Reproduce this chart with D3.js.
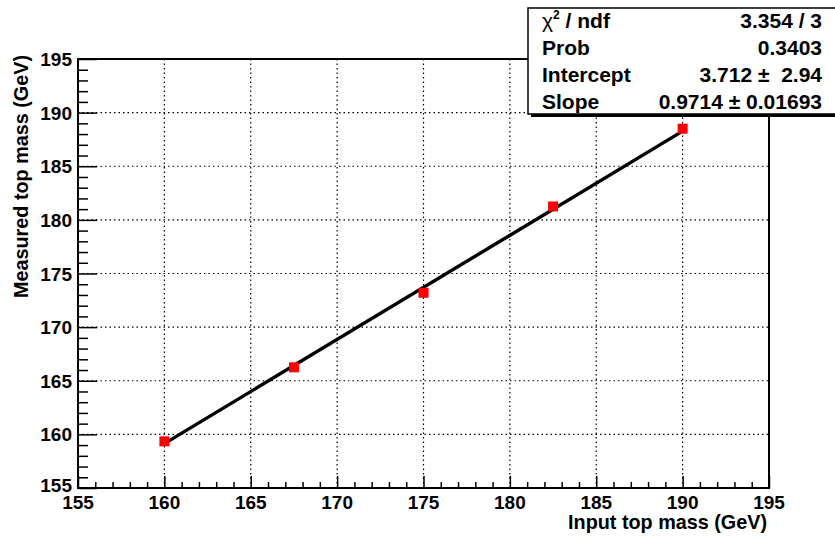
<!DOCTYPE html>
<html>
<head>
<meta charset="utf-8">
<script src="https://cdn.jsdelivr.net/npm/d3@7"></script>
<style>
  body { margin: 0; background: #fff; }
  text { font-family: "Liberation Sans", Arial, sans-serif; font-weight: bold; }
</style>
</head>
<body>
<svg id="chart" width="835" height="537"></svg>
<script>
// input vs measured top mass
const inputMass = [160, 167.5, 175, 182.5, 190];
const measuredMass = [159.35, 166.25, 173.2, 181.25, 188.5];
const xTicks = [155, 160, 165, 170, 175, 180, 185, 190, 195];
const yTicks = [155, 160, 165, 170, 175, 180, 185, 190, 195];
const fitIntercept = 3.712, fitSlope = 0.9714;
const statLabels = ['Prob', 'Intercept', 'Slope'];
const statValues = ['0.3403', '3.712 \u00b1  2.94', '0.9714 \u00b1 0.01693'];

const padL = 78, padR = 769, padT = 59, padB = 488;
const svg = d3.select('#chart');

const x = d3.scaleLinear().domain([155, 195]).range([padL, padR]);
const y = d3.scaleLinear().domain([155, 195]).range([padB, padT]);

// grid
svg.append('g').selectAll('line')
  .data(xTicks.slice(1, -1))
  .enter().append('line')
    .attr('x1', d => x(d)).attr('x2', d => x(d))
    .attr('y1', padT).attr('y2', padB)
    .attr('stroke', '#000').attr('stroke-width', 1.2)
    .attr('stroke-dasharray', '1.5,3');
svg.append('g').selectAll('line')
  .data(yTicks.slice(1, -1))
  .enter().append('line')
    .attr('y1', d => y(d)).attr('y2', d => y(d))
    .attr('x1', padL).attr('x2', padR)
    .attr('stroke', '#000').attr('stroke-width', 1.2)
    .attr('stroke-dasharray', '1.5,3');

// axes (ROOT style, ticks inside)
const minor = d3.range(155, 195.01, 1);
const gx = svg.append('g').attr('transform', `translate(0,${padB})`)
  .call(d3.axisTop(x).tickValues(minor).tickFormat('').tickSize(0));
gx.select('.domain').remove();
gx.selectAll('.tick line')
  .attr('y2', d => d % 5 === 0 ? -12 : -6)
  .attr('stroke-width', 1.5);

const gy = svg.append('g').attr('transform', `translate(${padL},0)`)
  .call(d3.axisRight(y).tickValues(minor).tickFormat('').tickSize(0));
gy.select('.domain').remove();
gy.selectAll('.tick line')
  .attr('x2', d => d % 5 === 0 ? 19 : 10)
  .attr('stroke-width', 1.5);

svg.append('g').selectAll('text')
  .data(xTicks)
  .enter().append('text')
    .attr('x', d => x(d)).attr('y', 509)
    .attr('text-anchor', 'middle')
    .attr('font-size', 19)
    .text(d => d);
svg.append('g').selectAll('text')
  .data(yTicks)
  .enter().append('text')
    .attr('x', padL - 6).attr('y', (d, i) => y(d) + (i === 0 ? 4 : 7))
    .attr('text-anchor', 'end')
    .attr('font-size', 19)
    .text(d => d);

// frame
svg.append('rect')
  .attr('x', padL).attr('y', padT)
  .attr('width', padR - padL).attr('height', padB - padT)
  .attr('fill', 'none').attr('stroke', '#000').attr('stroke-width', 2);

// fit line
const line = d3.line().x(d => x(d)).y(d => y(fitIntercept + fitSlope * d));
svg.append('path')
  .datum([inputMass[0], inputMass[inputMass.length - 1]])
  .attr('d', line)
  .attr('fill', 'none').attr('stroke', '#000').attr('stroke-width', 3.4);

// points
svg.append('g').selectAll('rect')
  .data(inputMass.map((d, i) => [d, measuredMass[i]]))
  .enter().append('rect')
    .attr('x', d => x(d[0]) - 5).attr('y', d => y(d[1]) - 5)
    .attr('width', 10).attr('height', 10)
    .attr('fill', '#ff0000');

// axis titles
svg.append('text')
  .attr('x', 767).attr('y', 529)
  .attr('text-anchor', 'end')
  .attr('font-size', 19.8)
  .text('Input top mass (GeV)');
{
  let tx = 28, ty = 55;
  svg.append('text')
    .attr('x', tx).attr('y', ty)
    .attr('text-anchor', 'end')
    .attr('font-size', 19.8)
    .attr('transform', `rotate(-90 ${tx} ${ty})`)
    .text('Measured top mass (GeV)');
}

// stats box
const bx = 528, by = 8, bw = 310, bh = 106;
svg.append('rect')
  .attr('x', bx + 3).attr('y', by + 3).attr('width', bw).attr('height', bh)
  .attr('fill', '#000');
svg.append('rect')
  .attr('x', bx).attr('y', by).attr('width', bw).attr('height', bh)
  .attr('fill', '#fff').attr('stroke', '#000').attr('stroke-width', 1.5);

const chi = svg.append('text').attr('x', 542).attr('y', 28).attr('font-size', 21);
chi.append('tspan').attr('font-weight', 'normal').text('\u03c7');
chi.append('tspan').attr('font-size', 12).attr('dy', -9).text('2');
chi.append('tspan').attr('dy', 9).text(' / ndf');
svg.append('text').attr('x', 822).attr('y', 28)
  .attr('text-anchor', 'end').attr('font-size', 21).text('3.354 / 3');

svg.append('g').selectAll('text')
  .data(statLabels)
  .enter().append('text')
    .attr('x', 542).attr('y', (d, i) => 55 + i * 27)
    .attr('font-size', 21)
    .text(d => d);
svg.append('g').selectAll('text')
  .data(statValues)
  .enter().append('text')
    .attr('x', 822).attr('y', (d, i) => 55 + i * 27)
    .attr('text-anchor', 'end')
    .attr('font-size', 21)
    .style('white-space', 'pre')
    .text(d => d);
</script>
</body>
</html>
